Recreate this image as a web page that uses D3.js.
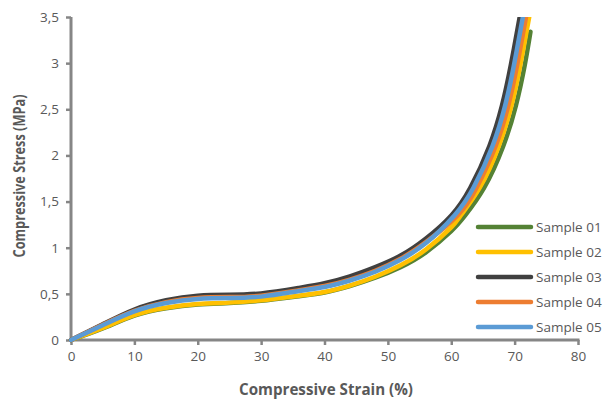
<!DOCTYPE html>
<html><head><meta charset="utf-8">
<script src="https://cdn.jsdelivr.net/npm/d3@7"></script>
<style>body{margin:0;background:#fff}</style>
</head><body>
<svg id="c" width="606" height="403"></svg>
<script>
const seriesNames = ["Sample 01","Sample 02","Sample 03","Sample 04","Sample 05"];
const colors = ["#548235","#FFC000","#404040","#ED7D31","#5B9BD5"];
const xTicks = [0,10,20,30,40,50,60,70,80];
const yTicks = [0,0.5,1,1.5,2,2.5,3,3.5];
const yTickLabels = ["0","0,5","1","1,5","2","2,5","3","3,5"];
const strain01 = [0,5,10,15,20,25,30,36,40,44,48,52,56,60,62.2,65.2,68.2,70.2,71.6,72.5];
const stress01 = [0,0.125,0.265,0.345,0.385,0.40,0.425,0.475,0.515,0.585,0.675,0.79,0.95,1.18,1.35,1.65,2.1,2.54,2.98,3.34];
const strain02 = [0,5,10,15,20,25,30,36,40,44,48,52,56,60,61.5,64.5,67.5,69.5,70.9,72.3,72.7];
const stress02 = [0,0.13,0.27,0.35,0.39,0.405,0.43,0.48,0.52,0.59,0.685,0.81,0.98,1.22,1.35,1.65,2.1,2.54,2.98,3.5,3.66];
const strain03 = [0,5,10,15,20,25,30,36,40,44,48,52,56,60,63,66,68,69.4,70.8,71.2];
const stress03 = [0,0.17,0.33,0.43,0.48,0.49,0.505,0.565,0.615,0.69,0.79,0.915,1.1,1.35,1.65,2.1,2.54,2.98,3.5,3.66];
const strain04 = [0,5,10,15,20,25,30,36,40,44,48,52,56,61,64,67,69,70.4,71.8,72.2];
const stress04 = [0,0.165,0.315,0.41,0.455,0.465,0.48,0.54,0.585,0.655,0.75,0.88,1.06,1.35,1.65,2.1,2.54,2.98,3.5,3.66];
const strain05 = [0,5,10,15,20,25,30,36,40,44,48,52,56,60.5,63.5,66.5,68.5,69.9,71.3,71.7];
const stress05 = [0,0.16,0.31,0.40,0.445,0.455,0.47,0.53,0.575,0.645,0.74,0.87,1.05,1.35,1.65,2.1,2.54,2.98,3.5,3.66];
const strains = [strain01,strain02,strain03,strain04,strain05];
const stresses = [stress01,stress02,stress03,stress04,stress05];

const svg = d3.select("#c");
const x = d3.scaleLinear().domain([0,80]).range([71,578]);
const y = d3.scaleLinear().domain([0,3.5]).range([340,17]);
const font = "'Open Sans', 'Liberation Sans', sans-serif";
const txt = "#595959";

svg.append("defs").append("clipPath").attr("id","clip")
  .append("rect").attr("x",0).attr("y",y(3.5)).attr("width",606).attr("height",403);

// axes
const gx = svg.append("g").attr("transform",`translate(0,${y(0)})`)
  .call(d3.axisBottom(x).tickValues(xTicks).tickSize(5).tickPadding(6).tickFormat(d3.format("d")));
const gy = svg.append("g").attr("transform",`translate(${x(0)},0)`)
  .call(d3.axisLeft(y).tickValues(yTicks).tickSize(5).tickPadding(7).tickFormat((d,i)=>yTickLabels[i]));
[gx,gy].forEach(g=>{
  g.select(".domain").attr("stroke","#868686").attr("stroke-width",3);
  g.selectAll(".tick line").attr("stroke","#868686").attr("stroke-width",2.5);
  g.selectAll(".tick text").attr("fill",txt).style("font-family",font).style("font-size","13.5px");
});
gx.select(".domain").attr("d",`M${x(0)},0H${x(80)+1.5}`);
gy.select(".domain").attr("d",`M0,${y(3.5)}V${y(0)+1.5}`);

// lines
const line = d3.line().x(d=>x(d[0])).y(d=>y(d[1])).curve(d3.curveNatural);
const lg = svg.append("g").attr("clip-path","url(#clip)");
seriesNames.forEach((n,i)=>{
  const pts = strains[i].map((s,j)=>[s,stresses[i][j]]);
  lg.append("path").attr("d",line(pts)).attr("fill","none")
    .attr("stroke",colors[i]).attr("stroke-width",4.5).attr("stroke-linecap","round");
});

// legend
const leg = svg.append("g");
seriesNames.forEach((n,i)=>{
  const yy = 227 + i*25;
  leg.append("line").attr("x1",478).attr("x2",531).attr("y1",yy).attr("y2",yy)
    .attr("stroke",colors[i]).attr("stroke-width",4.5).attr("stroke-linecap","round");
  leg.append("text").attr("x",536).attr("y",yy).attr("dy","0.35em").text(n)
    .attr("fill",txt).style("font-family",font).style("font-size","13.5px");
});

// titles
svg.append("text").attr("x",326).attr("y",395).attr("text-anchor","middle")
  .attr("textLength",174).attr("lengthAdjust","spacingAndGlyphs")
  .text("Compressive Strain (%)").attr("fill",txt).style("font-family",font)
  .style("font-size","15.5px").style("font-weight","bold");
svg.append("text").attr("transform","translate(25,176) rotate(-90)").attr("text-anchor","middle")
  .attr("textLength",163).attr("lengthAdjust","spacingAndGlyphs")
  .text("Compressive Stress (MPa)").attr("fill",txt).style("font-family",font)
  .style("font-size","15.5px").style("font-weight","bold");
</script>
</body></html>
